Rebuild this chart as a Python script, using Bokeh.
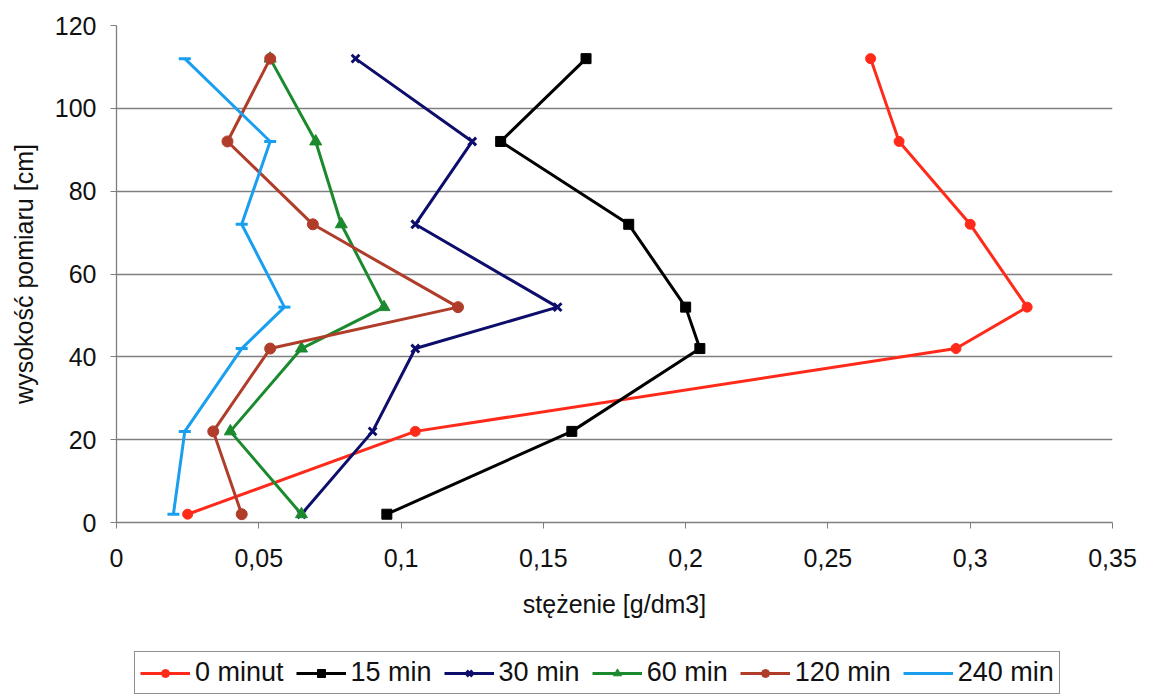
from bokeh.plotting import figure
from bokeh.layouts import column
from bokeh.models import Legend, LegendItem, FixedTicker, CustomJSTickFormatter, Range1d
from bokeh.embed import file_html
from bokeh.resources import INLINE

heights = [112, 92, 72, 52, 42, 22, 2]
c_0 = [0.265, 0.275, 0.300, 0.320, 0.295, 0.105, 0.025]
c_15 = [0.165, 0.135, 0.180, 0.200, 0.205, 0.160, 0.095]
c_30 = [0.084, 0.125, 0.105, 0.155, 0.105, 0.090, 0.065]
c_60 = [0.054, 0.070, 0.079, 0.094, 0.065, 0.040, 0.065]
c_120 = [0.054, 0.039, 0.069, 0.120, 0.054, 0.034, 0.044]
c_240 = [0.024, 0.054, 0.044, 0.059, 0.044, 0.024, 0.020]
series_names = ["0 minut", "15 min", "30 min", "60 min", "120 min", "240 min"]
x_ticks = [0, 0.05, 0.1, 0.15, 0.2, 0.25, 0.3, 0.35]
y_ticks = [0, 20, 40, 60, 80, 100, 120]

FONT = "Liberation Sans"
TXT = "#111111"

p = figure(width=1149, height=640, output_backend="svg", toolbar_location=None,
           x_range=Range1d(0, 0.35), y_range=Range1d(0, 120),
           min_border_left=116, min_border_right=37, min_border_top=25, min_border_bottom=118)
p.outline_line_color = None
p.background_fill_color = "white"
p.border_fill_color = "white"

p.xgrid.visible = False
p.ygrid.grid_line_color = "#7f7f7f"
p.ygrid.grid_line_width = 1.3
p.ygrid.ticker = FixedTicker(ticks=y_ticks)

for ax in (p.xaxis[0], p.yaxis[0]):
    ax.axis_line_color = "#7f7f7f"
    ax.axis_line_width = 1.3
    ax.major_tick_line_color = "#7f7f7f"
    ax.major_tick_in = 0
    ax.major_tick_out = 6
    ax.minor_tick_line_color = None
    ax.major_label_text_font = FONT
    ax.major_label_text_font_size = "25px"
    ax.major_label_text_color = TXT
    ax.axis_label_text_font = FONT
    ax.axis_label_text_font_size = "25px"
    ax.axis_label_text_font_style = "normal"
    ax.axis_label_text_color = TXT

p.xaxis.ticker = FixedTicker(ticks=x_ticks)
p.yaxis.ticker = FixedTicker(ticks=y_ticks)
p.xaxis.formatter = CustomJSTickFormatter(code="return parseFloat(tick.toFixed(2)).toString().replace('.', ',');")
p.xaxis.axis_label = "stężenie [g/dm3]"
p.yaxis.axis_label = "wysokość pomiaru [cm]"
p.xaxis.major_label_standoff = 20
p.xaxis.axis_label_standoff = 20
p.yaxis.major_label_standoff = 14
p.yaxis.axis_label_standoff = 14

colors = ["#ff2a1a", "#000000", "#0d0d6b", "#1b8a2e", "#b03c2a", "#1a9ff0"]
markers = ["circle", "square", "x", "triangle", "circle", "dash"]
sizes = [10, 10, 11, 12, 11, 12]
data = [c_0, c_15, c_30, c_60, c_120, c_240]


def draw(fig, xs, ys, col, mk, sz):
    ln = fig.line(xs, ys, line_color=col, line_width=3)
    if mk in ("x", "dash"):
        sc = fig.scatter(xs, ys, marker=mk, size=sz, line_color=col, line_width=3)
    else:
        sc = fig.scatter(xs, ys, marker=mk, size=sz, fill_color=col, line_color=col)
    return ln, sc


for xs, col, mk, sz in zip(data, colors, markers, sizes):
    draw(p, xs, heights, col, mk, sz)

# legend panel below the chart
p2 = figure(width=1149, height=54, output_backend="svg", toolbar_location=None,
            x_range=Range1d(0, 1), y_range=Range1d(0, 1),
            x_axis_type=None, y_axis_type=None,
            min_border_left=0, min_border_right=0, min_border_top=0, min_border_bottom=0)
p2.outline_line_color = None
p2.xgrid.visible = False
p2.ygrid.visible = False
p2.background_fill_color = "white"
p2.border_fill_color = "white"

items = []
for name, col, mk, sz in zip(series_names, colors, markers, sizes):
    ln, sc = draw(p2, [-5, -4], [-5, -4], col, mk, sz)
    items.append(LegendItem(label=name, renderers=[ln, sc]))

legend = Legend(items=items, orientation="horizontal", location=(18, 0),
                label_text_font=FONT, label_text_font_size="27px", label_text_color=TXT,
                border_line_color="#222222", border_line_width=1.3,
                glyph_width=50, label_standoff=5, spacing=12, padding=5,
                margin=0)
p2.add_layout(legend, "center")

layout = column(p, p2, spacing=0)
open("out.html", "w").write(file_html(layout, INLINE))
